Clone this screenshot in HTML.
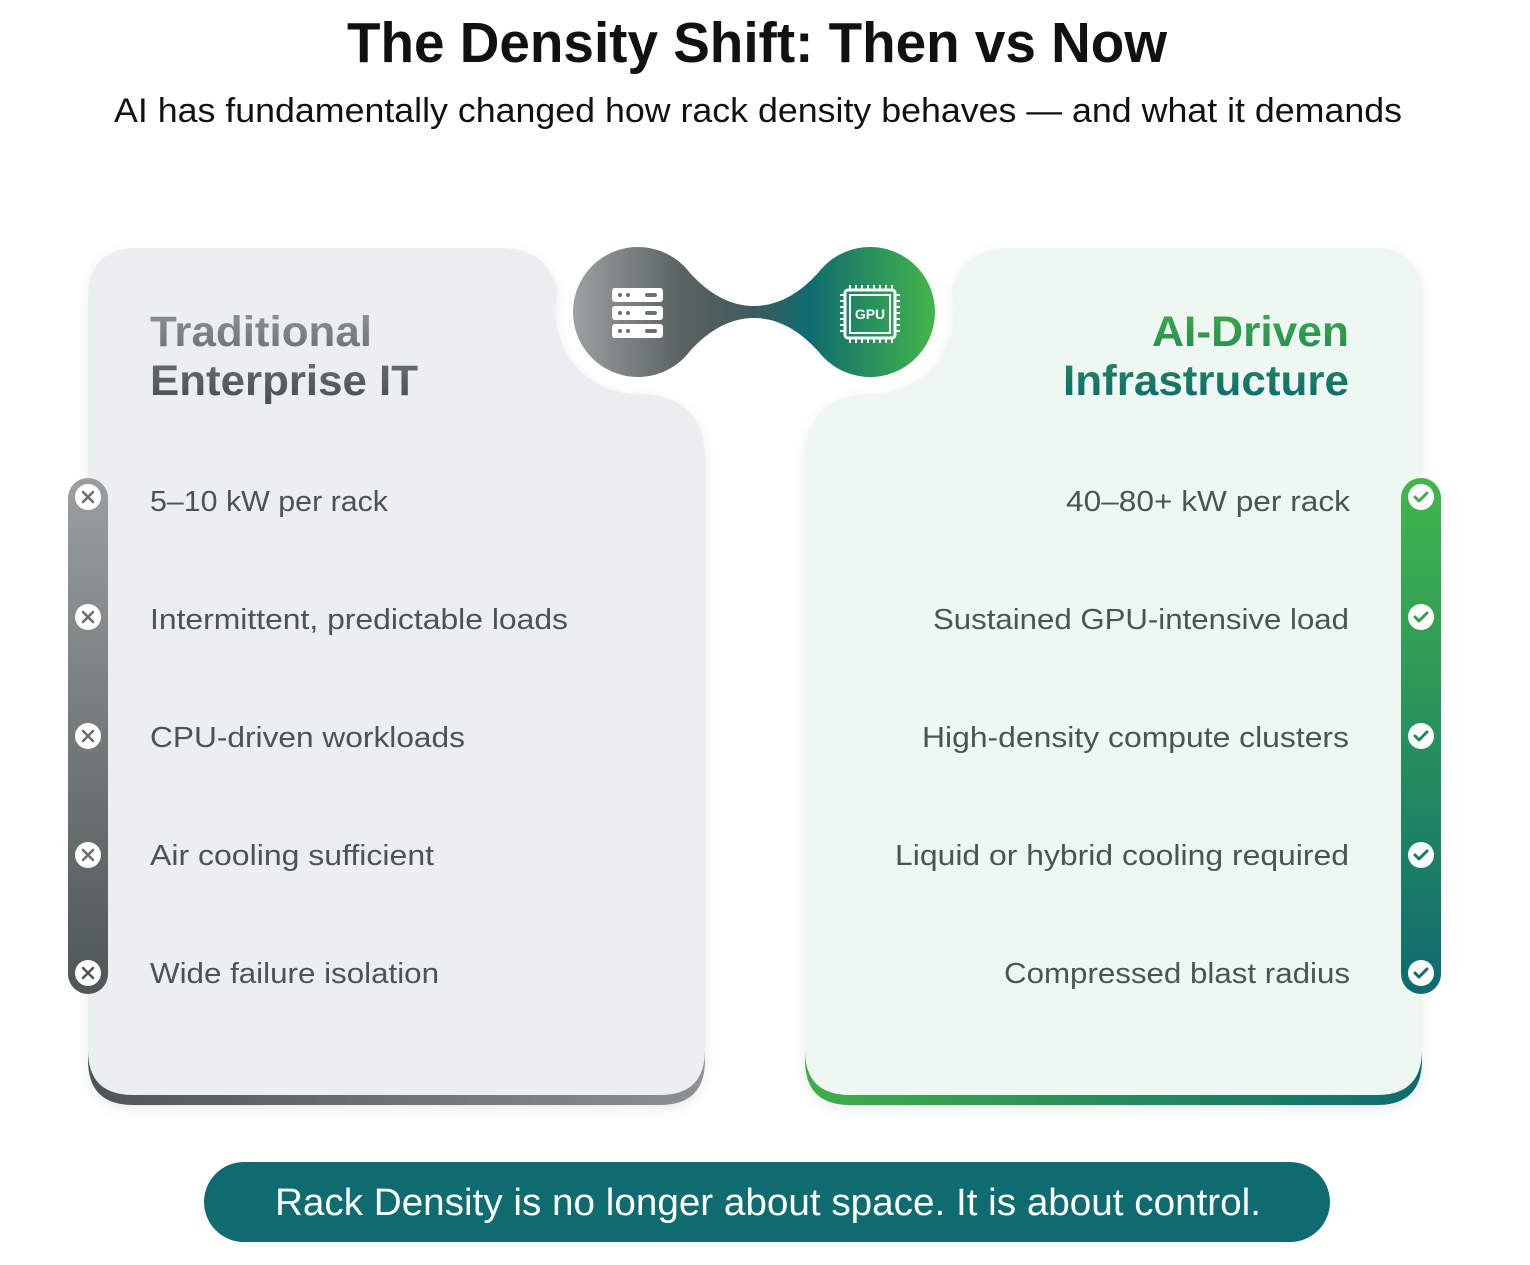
<!DOCTYPE html>
<html><head><meta charset="utf-8"><style>
html,body{margin:0;padding:0;background:#fff;}
svg{display:block;font-family:"Liberation Sans",sans-serif;}
</style></head><body>
<svg width="1530" height="1265" viewBox="0 0 1530 1265" xmlns="http://www.w3.org/2000/svg">
<defs>
<linearGradient id="gl" x1="0" x2="1" y1="0" y2="0"><stop offset="0" stop-color="#4e5555"/><stop offset="1" stop-color="#8c9292"/></linearGradient>
<linearGradient id="gr" x1="0" x2="1" y1="0" y2="0"><stop offset="0" stop-color="#3fae48"/><stop offset="1" stop-color="#0e6b70"/></linearGradient>
<linearGradient id="railL" x1="0" x2="0" y1="0" y2="1"><stop offset="0" stop-color="#9a9f9f"/><stop offset="1" stop-color="#4f5656"/></linearGradient>
<linearGradient id="railR" x1="0" x2="0" y1="0" y2="1"><stop offset="0" stop-color="#42b64a"/><stop offset="1" stop-color="#0e6b70"/></linearGradient>
<linearGradient id="conn" x1="573" x2="935" y1="0" y2="0" gradientUnits="userSpaceOnUse"><stop offset="0" stop-color="#9ca1a1"/><stop offset="0.3" stop-color="#5a6262"/><stop offset="0.5" stop-color="#3f5a5c"/><stop offset="0.65" stop-color="#0e6b70"/><stop offset="1" stop-color="#44b64a"/></linearGradient>
<linearGradient id="tl" x1="0" x2="0" y1="310" y2="400" gradientUnits="userSpaceOnUse"><stop offset="0" stop-color="#8d9292"/><stop offset="1" stop-color="#4a5151"/></linearGradient>
<linearGradient id="tr" x1="0" x2="0" y1="310" y2="400" gradientUnits="userSpaceOnUse"><stop offset="0" stop-color="#3cab44"/><stop offset="1" stop-color="#0e6b70"/></linearGradient>
<filter id="sh" x="-10%" y="-10%" width="120%" height="120%"><feDropShadow dx="0" dy="4" stdDeviation="6" flood-color="#000" flood-opacity="0.08"/></filter>
</defs>

<text x="757" y="62" text-anchor="middle" font-size="57" font-weight="bold" fill="#111" textLength="820" lengthAdjust="spacingAndGlyphs">The Density Shift: Then vs Now</text>
<text x="758" y="122" text-anchor="middle" font-size="34" fill="#111" textLength="1288" lengthAdjust="spacingAndGlyphs">AI has fundamentally changed how rack density behaves — and what it demands</text>

<!-- left card -->
<g filter="url(#sh)">
<path d="M88,1045 L88,1060 Q88,1105 133,1105 L660,1105 Q705,1105 705,1060 L705,1045 Z" fill="url(#gl)"/>
<path d="M138,248 L500,248 Q548,248 558,292 A82,82 0 0 0 638,394 Q705,394 705,460 L705,1050 Q705,1095 660,1095 L133,1095 Q88,1095 88,1050 L88,298 Q88,248 138,248 Z" fill="#ebeff0"/>
</g>
<!-- right card -->
<g filter="url(#sh)">
<path d="M1422,1045 L1422,1060 Q1422,1105 1377,1105 L850,1105 Q805,1105 805,1060 L805,1045 Z" fill="url(#gr)"/>
<path d="M1372,248 L1010,248 Q962,248 952,292 A82,82 0 0 1 872,394 Q805,394 805,460 L805,1050 Q805,1095 850,1095 L1377,1095 Q1422,1095 1422,1050 L1422,298 Q1422,248 1372,248 Z" fill="#eef7f1"/>
</g>

<!-- connector -->
<path d="M638,247 A65,65 0 0 1 690,273 Q720,306 754,306 Q788,306 818,273 A65,65 0 1 1 818,351 Q788,318 754,318 Q720,318 690,351 A65,65 0 1 1 638,247 Z" fill="url(#conn)"/>
<!-- server icon -->
<g fill="#fff">
<rect x="612" y="288" width="51" height="14" rx="3"/><rect x="612" y="306" width="51" height="14" rx="3"/><rect x="612" y="324" width="51" height="14" rx="3"/>
</g>
<g fill="#6a7171">
<circle cx="620" cy="295" r="2"/><circle cx="628" cy="295" r="2"/><rect x="645" y="293" width="12" height="4" rx="2"/>
<circle cx="620" cy="313" r="2"/><circle cx="628" cy="313" r="2"/><rect x="645" y="311" width="12" height="4" rx="2"/>
<circle cx="620" cy="331" r="2"/><circle cx="628" cy="331" r="2"/><rect x="645" y="329" width="12" height="4" rx="2"/>
</g>
<!-- gpu icon -->
<g stroke="#fff" fill="none">
<rect x="845" y="290" width="50" height="48" rx="3" stroke-width="3"/>
<rect x="850" y="295" width="40" height="38" stroke-width="2"/>
<path d="M850,285 v5 M856,285 v5 M862,285 v5 M868,285 v5 M874,285 v5 M880,285 v5 M886,285 v5 M892,285 v5 M850,338 v5 M856,338 v5 M862,338 v5 M868,338 v5 M874,338 v5 M880,338 v5 M886,338 v5 M892,338 v5 M840,295 h5 M840,301 h5 M840,307 h5 M840,313 h5 M840,319 h5 M840,325 h5 M840,331 h5 M895,295 h5 M895,301 h5 M895,307 h5 M895,313 h5 M895,319 h5 M895,325 h5 M895,331 h5" stroke-width="2"/>
</g>
<text x="870" y="319" text-anchor="middle" font-size="14" font-weight="bold" fill="#fff">GPU</text>

<!-- titles -->
<text x="150" y="346" font-size="43" font-weight="bold" fill="url(#tl)" textLength="222" lengthAdjust="spacingAndGlyphs">Traditional</text>
<text x="150" y="395" font-size="43" font-weight="bold" fill="url(#tl)" textLength="268" lengthAdjust="spacingAndGlyphs">Enterprise IT</text>
<text x="1349" y="346" text-anchor="end" font-size="43" font-weight="bold" fill="url(#tr)" textLength="197" lengthAdjust="spacingAndGlyphs">AI-Driven</text>
<text x="1349" y="395" text-anchor="end" font-size="43" font-weight="bold" fill="url(#tr)" textLength="286" lengthAdjust="spacingAndGlyphs">Infrastructure</text>

<!-- rails -->
<rect x="68" y="478" width="40" height="516" rx="20" fill="url(#railL)"/>
<rect x="1401" y="478" width="40" height="516" rx="20" fill="url(#railR)"/>
<g fill="#fff">
<circle cx="88" cy="497" r="13"/><circle cx="88" cy="617" r="13"/><circle cx="88" cy="736" r="13"/><circle cx="88" cy="855" r="13"/><circle cx="88" cy="973" r="13"/>
<circle cx="1421" cy="497" r="13"/><circle cx="1421" cy="617" r="13"/><circle cx="1421" cy="736" r="13"/><circle cx="1421" cy="855" r="13"/><circle cx="1421" cy="973" r="13"/>
</g>
<g stroke="#6a7070" stroke-width="2.6" stroke-linecap="round">
<path d="M83,492 l10,10 M93,492 l-10,10"/><path d="M83,612 l10,10 M93,612 l-10,10"/><path d="M83,731 l10,10 M93,731 l-10,10"/><path d="M83,850 l10,10 M93,850 l-10,10"/><path d="M83,968 l10,10 M93,968 l-10,10" stroke="#505757"/>
</g>
<g stroke-width="3" fill="none" stroke-linecap="round" stroke-linejoin="round">
<path d="M1415,497 l4,4 l8,-8" stroke="#3fae48"/><path d="M1415,617 l4,4 l8,-8" stroke="#30a04c"/><path d="M1415,736 l4,4 l8,-8" stroke="#1f8a58"/><path d="M1415,855 l4,4 l8,-8" stroke="#157a62"/><path d="M1415,973 l4,4 l8,-8" stroke="#0e6b70"/>
</g>

<!-- items -->
<g font-size="29" fill="#4b5353">
<text x="150" y="511" textLength="238" lengthAdjust="spacingAndGlyphs">5–10 kW per rack</text>
<text x="150" y="629" textLength="418" lengthAdjust="spacingAndGlyphs">Intermittent, predictable loads</text>
<text x="150" y="747" textLength="315" lengthAdjust="spacingAndGlyphs">CPU-driven workloads</text>
<text x="150" y="865" textLength="284" lengthAdjust="spacingAndGlyphs">Air cooling sufficient</text>
<text x="150" y="983" textLength="289" lengthAdjust="spacingAndGlyphs">Wide failure isolation</text>
</g>
<g font-size="29" fill="#4b5353" text-anchor="end">
<text x="1350" y="511" textLength="284" lengthAdjust="spacingAndGlyphs">40–80+ kW per rack</text>
<text x="1349" y="629" textLength="416" lengthAdjust="spacingAndGlyphs">Sustained GPU-intensive load</text>
<text x="1349" y="747" textLength="427" lengthAdjust="spacingAndGlyphs">High-density compute clusters</text>
<text x="1349" y="865" textLength="454" lengthAdjust="spacingAndGlyphs">Liquid or hybrid cooling required</text>
<text x="1350" y="983" textLength="346" lengthAdjust="spacingAndGlyphs">Compressed blast radius</text>
</g>

<!-- pill -->
<rect x="204" y="1162" width="1126" height="80" rx="40" fill="#0e6b70"/>
<text x="768" y="1215" text-anchor="middle" font-size="38" fill="#fff" textLength="986" lengthAdjust="spacingAndGlyphs">Rack Density is no longer about space. It is about control.</text>
</svg>
</body></html>
